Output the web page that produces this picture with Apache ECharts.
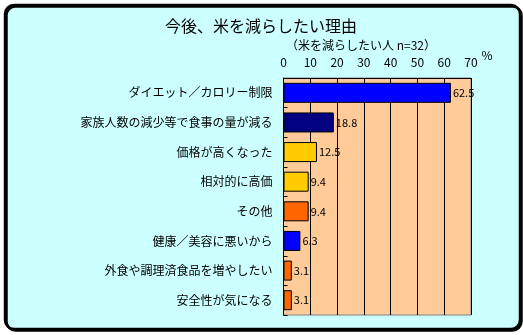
<!DOCTYPE html>
<html><head><meta charset="utf-8">
<script src="https://cdn.jsdelivr.net/npm/echarts@6/dist/echarts.min.js"></script>
<style>html,body{margin:0;padding:0;background:#fff}#c{width:523px;height:335px}</style>
</head><body><div id="c"></div>
<script>
const categories = ['ダイエット／カロリー制限','家族人数の減少等で食事の量が減る','価格が高くなった','相対的に高価','その他','健康／美容に悪いから','外食や調理済食品を増やしたい','安全性が気になる'];
const values = [62.5, 18.8, 12.5, 9.4, 9.4, 6.3, 3.1, 3.1];
const barColors = ['#0000FF','#000080','#FFCC00','#FFCC00','#FF6600','#0000FF','#FF6600','#FF6600'];
const titleText = '今後、米を減らしたい理由';
const subtitleText = '（米を減らしたい人 n=32）';
const unitText = '%';

const font = '"Noto Sans CJK JP","Noto Sans",sans-serif';
const chart = echarts.init(document.getElementById('c'), null, {renderer:'canvas'});
chart.setOption({
  backgroundColor: '#FFFFFF',
  animation: false,
  textStyle: {fontFamily: font},
  graphic: [
    {type:'rect', z:-10, shape:{x:5, y:5, width:515, height:324, r:9},
     style:{fill:'#CCFFFF', stroke:'#000', lineWidth:2.5, shadowColor:'#000', shadowOffsetX:1.5, shadowOffsetY:1.5, shadowBlur:0}},
    {type:'text', x:261, y:26, style:{text:titleText, font:'16px '+font, fill:'#000', textAlign:'center', textVerticalAlign:'middle'}},
    {type:'text', x:361, y:45, style:{text:subtitleText, font:'12px '+font, fill:'#000', textAlign:'center', textVerticalAlign:'middle'}},
    {type:'text', x:487, y:55, style:{text:unitText, font:'12px '+font, fill:'#000', textAlign:'center', textVerticalAlign:'middle'}}
  ],
  grid: {left:283.5, right:52, top:78, bottom:20, show:true, backgroundColor:'#FFCC99', borderColor:'#808080', borderWidth:1},
  xAxis: {type:'value', position:'top', min:0, max:70, interval:10,
    axisLine:{show:true, lineStyle:{color:'#000', width:1}},
    axisTick:{show:false},
    splitLine:{show:true, lineStyle:{color:'#000', width:1}},
    axisLabel:{color:'#000', fontSize:12, margin:10, fontFamily:font}},
  yAxis: {type:'category', inverse:true, data:categories,
    axisLine:{show:true, lineStyle:{color:'#000', width:1}},
    axisTick:{show:true, inside:true, length:4, lineStyle:{color:'#000'}},
    axisLabel:{color:'#000', fontSize:12, margin:11, fontFamily:font}},
  series: [{type:'bar', barWidth:20,
    data: values.map((v,i)=>({value:v, itemStyle:{color:barColors[i]}})),
    itemStyle:{borderColor:'#000', borderWidth:1},
    label:{show:true, position:'right', distance:2, color:'#000', fontSize:11, fontFamily:font}}]
});
</script></body></html>
